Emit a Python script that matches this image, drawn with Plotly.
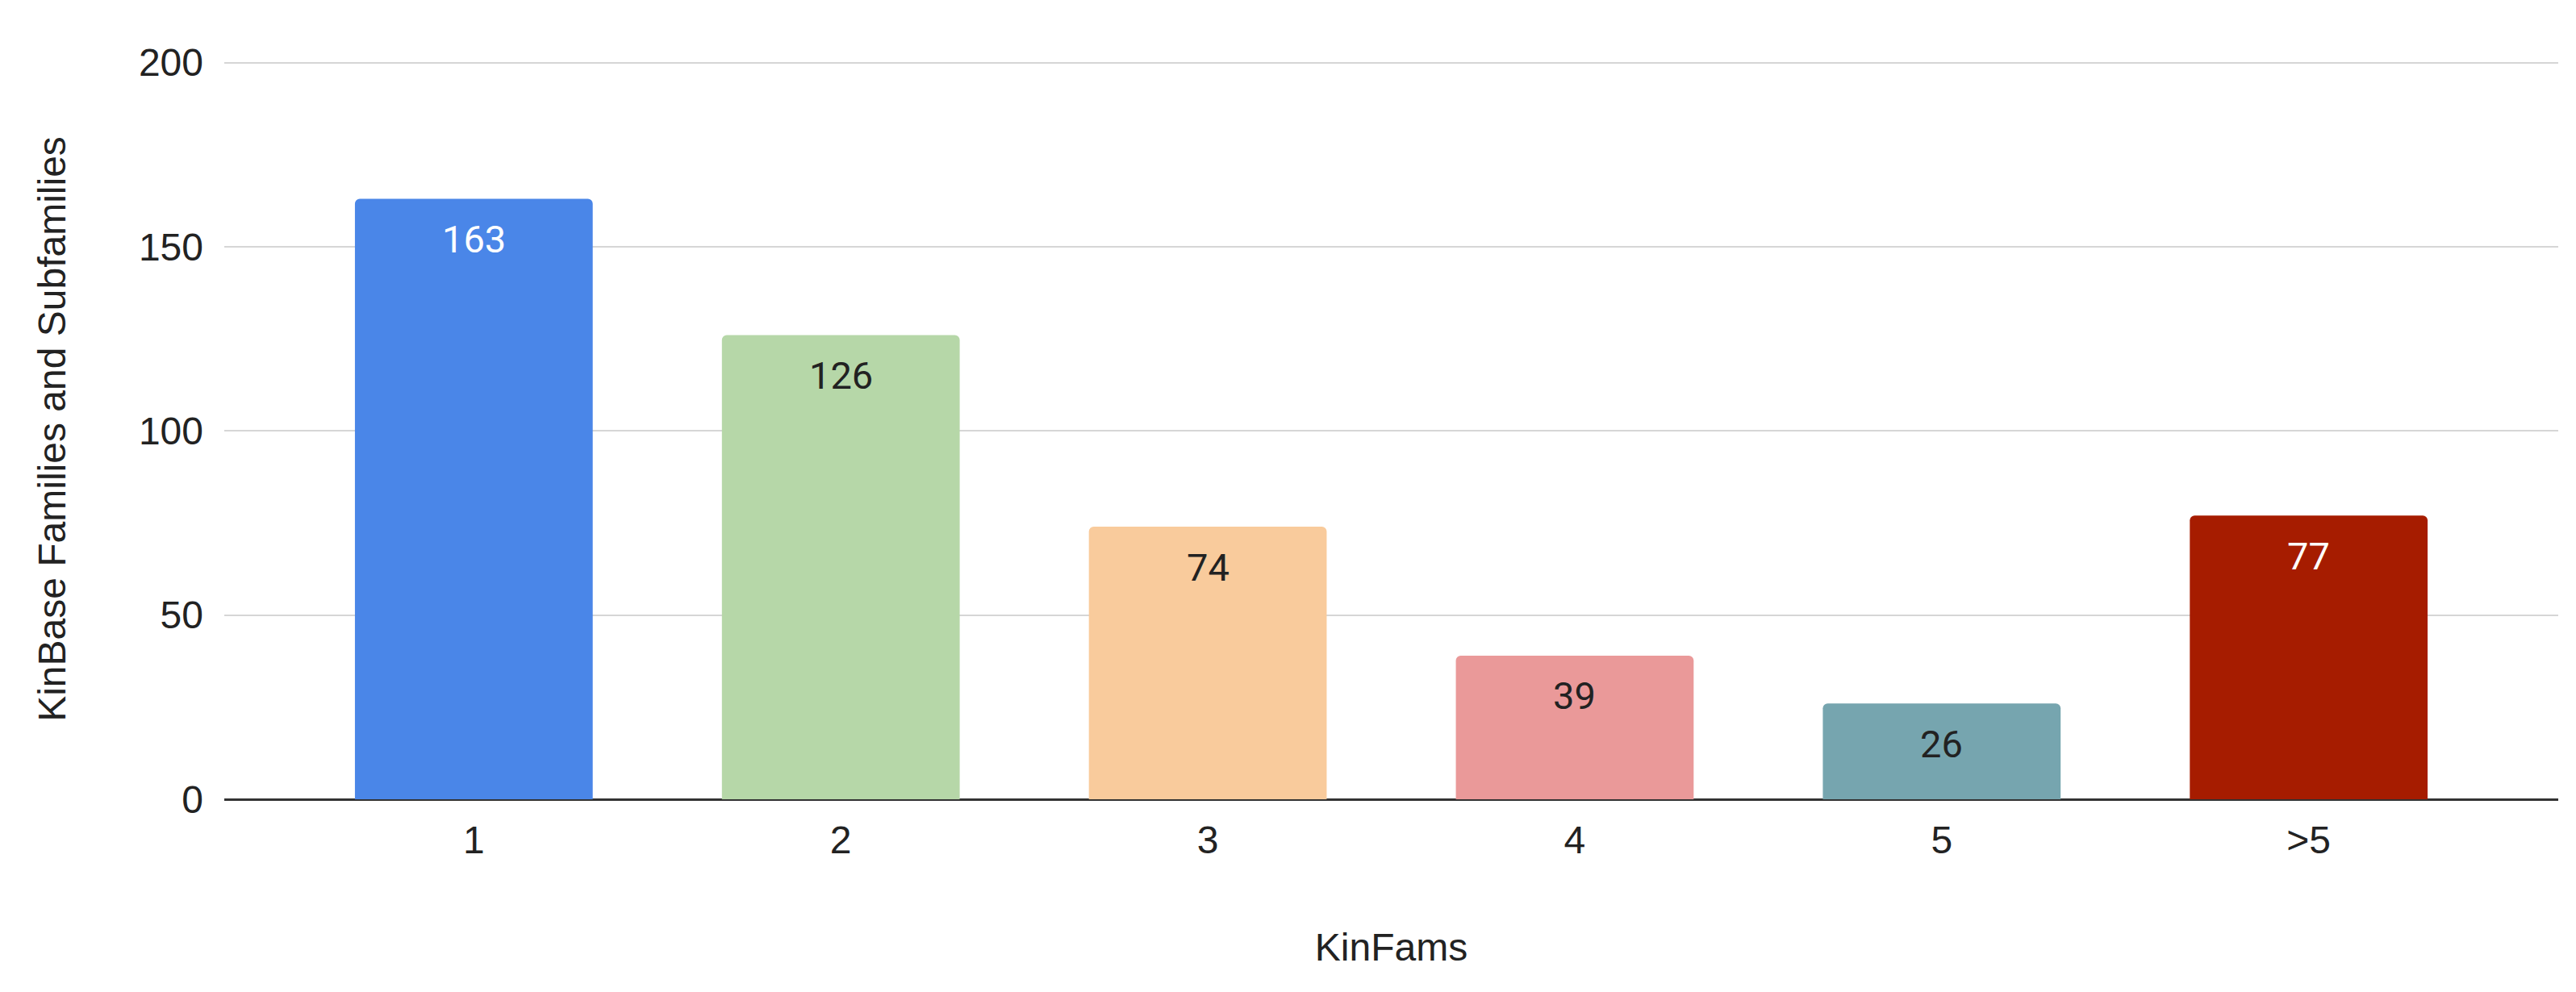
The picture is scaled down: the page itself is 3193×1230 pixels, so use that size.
import plotly.graph_objects as go

categories = ["1", "2", "3", "4", "5", ">5"]
values = [163, 126, 74, 39, 26, 77]
bar_colors = ["#4A86E8", "#B6D7A8", "#F9CB9C", "#EA9999", "#76A5AF", "#A61C00"]
label_colors = ["#FFFFFF", "#222222", "#222222", "#222222", "#222222", "#FFFFFF"]
y_ticks = [0, 50, 100, 150, 200]

fig = go.Figure()
fig.add_trace(go.Bar(
    x=categories,
    y=values,
    marker=dict(color=bar_colors, line=dict(width=0), cornerradius=6),
    width=0.648,
    hoverinfo="x+y",
))

for i, (v, lc) in enumerate(zip(values, label_colors)):
    fig.add_annotation(
        x=i, y=v, xref="x", yref="y", text=str(v), showarrow=False,
        yshift=-50, yanchor="middle",
        font=dict(family="Roboto", size=47, color=lc),
    )

fig.update_layout(
    width=3193, height=1230,
    margin=dict(l=270, r=30, t=65, b=247),
    paper_bgcolor="white", plot_bgcolor="white",
    showlegend=False,
    font=dict(family="Liberation Sans, Arial", size=48, color="#222222"),
    bargap=0.352,
)
fig.update_xaxes(
    type="category",
    range=[-0.68, 5.68],
    showgrid=False,
    showline=False,
    ticks="",
    ticklabelstandoff=18,
    tickfont=dict(size=48, color="#222222"),
    title=dict(text="KinFams", font=dict(size=48, color="#222222"), standoff=90),
)
fig.update_yaxes(
    range=[0, 201],
    tickvals=y_ticks,
    showgrid=True, gridcolor="#d6d6d6", gridwidth=2,
    zeroline=True, zerolinecolor="#333333", zerolinewidth=3,
    showline=False,
    ticks="",
    ticklabelstandoff=25,
    tickfont=dict(size=48, color="#222222"),
    title=dict(text="KinBase Families and Subfamilies", font=dict(size=48, color="#222222"), standoff=75),
)

fig.write_html("out.html")
